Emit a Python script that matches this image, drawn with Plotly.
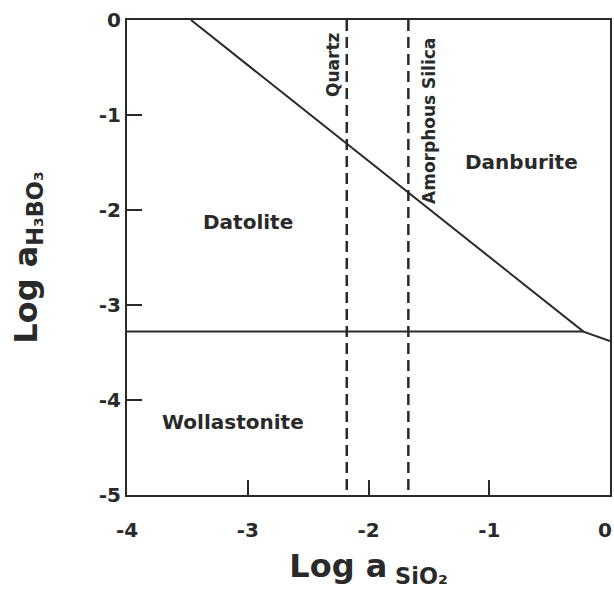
import plotly.graph_objects as go

# Phase boundaries (log a SiO2, log a H3BO3)
boundary_x = [-3.47, -0.22, 0.0]
boundary_y = [0.0, -3.28, -3.38]
horiz_x = [-4.0, -0.22]
horiz_y = [-3.28, -3.28]
quartz_x = -2.18
amorph_x = -1.67

x_ticks = [-4, -3, -2, -1, 0]
x_tick_labels = ["-4", "-3", "-2", "-1", ""]
edge_tick_value = 0
edge_tick_label = "0"
y_ticks = [0, -1, -2, -3, -4, -5]
y_tick_labels = ["0", "-1", "-2", "-3", "-4", "-5"]

field_labels = ["Datolite", "Danburite", "Wollastonite"]
field_x = [-3.0, -0.73, -3.12]
field_y = [-2.13, -1.49, -4.23]

vline_labels = ["Quartz", "Amorphous Silica"]
vline_label_x = [-2.30, -1.505]
vline_label_y = [-0.47, -1.06]

ink = "#2a2a2a"
font = "DejaVu Sans"

fig = go.Figure()
fig.add_trace(go.Scatter(x=boundary_x, y=boundary_y, mode="lines",
                         line=dict(color=ink, width=2), showlegend=False))
fig.add_trace(go.Scatter(x=horiz_x, y=horiz_y, mode="lines",
                         line=dict(color=ink, width=2), showlegend=False))
for vx in [quartz_x, amorph_x]:
    fig.add_trace(go.Scatter(x=[vx, vx], y=[0, -5], mode="lines",
                             line=dict(color=ink, width=2.5, dash="11px,6px"),
                             showlegend=False))

for t, x, y in zip(field_labels, field_x, field_y):
    fig.add_annotation(x=x, y=y, text="<b>%s</b>" % t, showarrow=False,
                       font=dict(family=font, size=20, color=ink))
for t, x, y in zip(vline_labels, vline_label_x, vline_label_y):
    fig.add_annotation(x=x, y=y, text="<b>%s</b>" % t, showarrow=False,
                       textangle=-90, font=dict(family=font, size=17, color=ink))

# last x tick label, nudged inward so it stays inside the page edge
fig.add_annotation(x=edge_tick_value, xref="x", y=0, yref="paper",
                   text="<b>%s</b>" % edge_tick_label, showarrow=False,
                   xanchor="center", yanchor="middle", xshift=-5, yshift=-35,
                   font=dict(family=font, size=20, color=ink))

fig.update_layout(
    width=614, height=600,
    margin=dict(l=127, r=4, t=20, b=105),
    plot_bgcolor="white", paper_bgcolor="white",
    font=dict(family=font, color=ink),
)
fig.update_xaxes(range=[-4, 0], tickvals=x_ticks,
                 ticktext=["<b>%s</b>" % v if v else "" for v in x_tick_labels],
                 tickfont=dict(family=font, size=20, color=ink),
                 ticklabeloverflow="allow", automargin=False, ticklabelstandoff=16,
                 ticks="inside", ticklen=15, tickwidth=2, tickcolor=ink,
                 showline=True, linecolor=ink, linewidth=2, mirror=True,
                 showgrid=False, zeroline=False,
                 title=dict(text="<b>Log a<sub> SiO₂</sub></b>",
                            font=dict(family=font, size=32, color=ink), standoff=14))
fig.update_yaxes(range=[-5, 0], tickvals=y_ticks,
                 ticktext=["<b>%s</b>" % v for v in y_tick_labels],
                 tickfont=dict(family=font, size=20, color=ink),
                 ticklabeloverflow="allow", automargin=False,
                 ticks="inside", ticklen=15, tickwidth=2, tickcolor=ink,
                 showline=True, linecolor=ink, linewidth=2, mirror=True,
                 showgrid=False, zeroline=False,
                 title=dict(text="<b>Log a<sub>H₃BO₃</sub></b>",
                            font=dict(family=font, size=32, color=ink), standoff=52))

fig.write_html("out.html", config={"displayModeBar": False},
               post_script="document.body.style.margin='0';document.body.style.overflow='hidden';")
